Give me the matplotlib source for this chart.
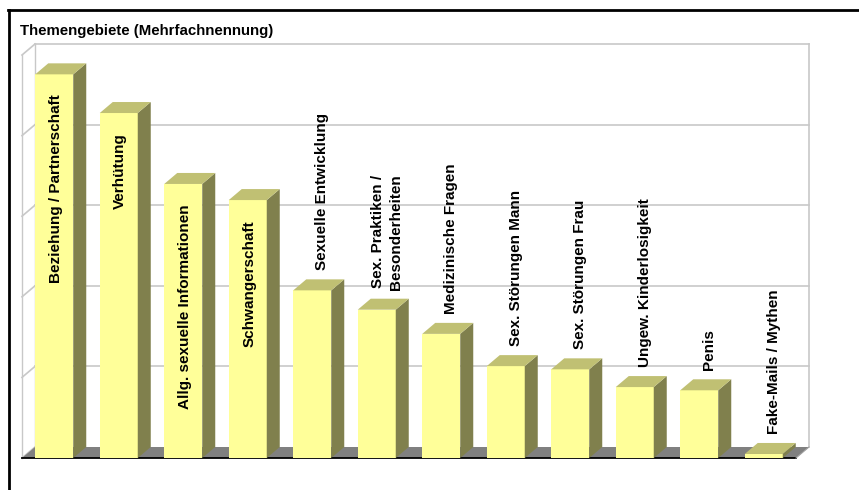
import numpy as np
import matplotlib.pyplot as plt
from matplotlib.patches import Polygon
from matplotlib.lines import Line2D

plt.rcParams['font.family'] = ['Liberation Sans', 'DejaVu Sans']

# Themengebiete, Anteil in % (Gitterlinien alle 5 %)
themen = ['Beziehung / Partnerschaft', 'Verhütung', 'Allg. sexuelle Informationen',
          'Schwangerschaft', 'Sexuelle Entwicklung', 'Sex. Praktiken /\nBesonderheiten',
          'Medizinische Fragen', 'Sex. Störungen Mann', 'Sex. Störungen Frau',
          'Ungew. Kinderlosigkeit', 'Penis', 'Fake-Mails / Mythen']
anteil = [23.8, 21.4, 17.0, 16.0, 10.4, 9.2, 7.7, 5.7, 5.5, 4.4, 4.2, 0.25]
gitter = [0, 5, 10, 15, 20, 25]

W, H = 859, 490
fig = plt.figure(figsize=(W / 100, H / 100), dpi=100)
ax = fig.add_axes([22 / W, 32 / H, 774 / W, 403 / H])
n = len(themen)
ax.set_xlim(-0.5, n - 0.5)
ax.set_ylim(0, 25)
ax.axis('off')

# 3D depth (13 px right, 11 px up) in data units
dx = 13 / 774 * n
dy = 11 / 403 * 25
bw = 38 / 64.5

front_c = '#FFFF99'
side_c = '#80804D'
top_c = '#C0C073'
grid_c = '#C8C8C8'

x0, x1 = -0.5 + dx, n - 0.5 + dx
# back wall + side wall
for g in gitter:
    if g > 0:
        ax.plot([x0, x1], [g + dy, g + dy], color=grid_c, lw=1.2, clip_on=False, zorder=1)
    ax.plot([-0.5, x0], [g, g + dy], color=grid_c, lw=1.2, clip_on=False, zorder=1)
ax.plot([x1, x1], [dy, gitter[-1] + dy], color=grid_c, lw=1.2, clip_on=False, zorder=1)
ax.plot([x0, x0], [dy, gitter[-1] + dy], color=grid_c, lw=1.0, clip_on=False, zorder=1)
ax.plot([-0.5, -0.5], [0, gitter[-1]], color=grid_c, lw=1.0, clip_on=False, zorder=1)

# floor
ax.add_patch(Polygon([(-0.5, 0), (n - 0.5, 0), (x1, dy), (x0, dy)],
                     closed=True, fc='#808080', ec='none', clip_on=False, zorder=2))
ax.plot([-0.5, n - 0.5], [0, 0], color='black', lw=1.3, clip_on=False, zorder=2)
ax.plot([n - 0.5, x1], [0, dy], color='#A0A0A0', lw=0.8, clip_on=False, zorder=2)

x = np.arange(n)
ax.bar(x, anteil, width=bw, color=front_c, zorder=3, clip_on=False)
for i, v in enumerate(anteil):
    l, r = i - bw / 2, i + bw / 2
    ax.add_patch(Polygon([(r, 0), (r + dx, dy), (r + dx, v + dy), (r, v)],
                         closed=True, fc=side_c, ec='none', zorder=3, clip_on=False))
    ax.add_patch(Polygon([(l, v), (r, v), (r + dx, v + dy), (l + dx, v + dy)],
                         closed=True, fc=top_c, ec='none', zorder=3, clip_on=False))

for i, (name, v) in enumerate(zip(themen, anteil)):
    if v > 12:
        ax.annotate(name, (i, v), xytext=(1.5, -20), textcoords='offset pixels',
                    rotation=90, ha='center', va='top', fontsize=11,
                    fontweight='bold', zorder=5)
    else:
        ax.annotate(name, (i, v + dy), xytext=(10, 9), textcoords='offset pixels',
                    rotation=90, ha='center', va='bottom', fontsize=11,
                    fontweight='bold', multialignment='center', linespacing=1.4,
                    zorder=5)

fig.text(20 / W, 1 - 31 / H, 'Themengebiete (Mehrfachnennung)', fontsize=10.8,
         fontweight='bold', va='center')

# outer frame
fig.add_artist(Line2D([8 / W, 1], [1 - 10 / H, 1 - 10 / H], color='black', lw=2))
fig.add_artist(Line2D([9 / W, 9 / W], [0, 1 - 10 / H], color='black', lw=2))

fig.savefig('out.png', dpi=100)
